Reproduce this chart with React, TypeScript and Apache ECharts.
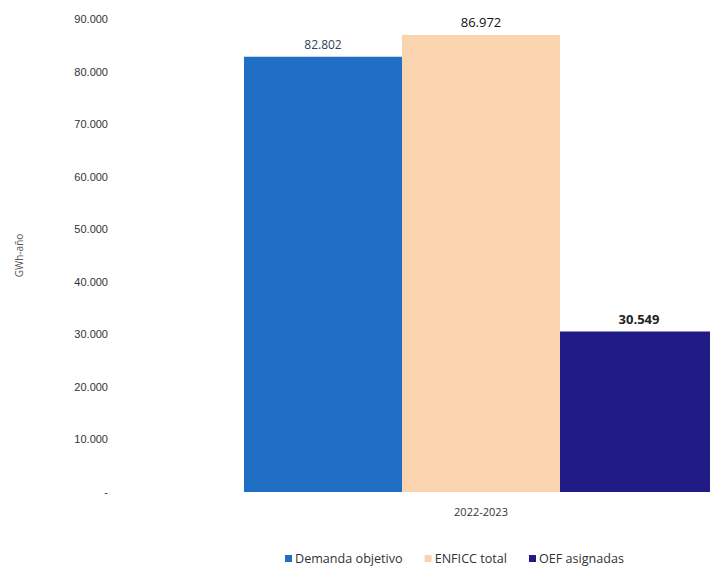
import React, { useEffect, useRef } from "react";
import * as echarts from "echarts";

const categories = ["2022-2023"];
const seriesNames = ["Demanda objetivo", "ENFICC total", "OEF asignadas"];
const demandaObjetivo = [82802];
const enficcTotal = [86972];
const oefAsignadas = [30549];
const seriesColors = ["#1f6fc6", "#f9d4ae", "#211b86"];

const fmt = (v: number) =>
  v === 0 ? "-" : String(Math.round(v)).replace(/\B(?=(\d{3})+(?!\d))/g, ".");

export default function App() {
  const ref = useRef<HTMLDivElement>(null);
  useEffect(() => {
    if (!ref.current) return;
    const chart = echarts.init(ref.current, undefined, { renderer: "svg" });
    const values = [demandaObjetivo, enficcTotal, oefAsignadas];
    const labelStyles = [
      { fontSize: 12, color: "#2f3f55", fontWeight: "normal" as const },
      { fontSize: 13, color: "#111", fontWeight: "normal" as const },
      { fontSize: 13, color: "#222", fontWeight: "bold" as const },
    ];
    chart.setOption({
      animation: false,
      grid: { left: 244, width: 474, top: 19, bottom: 76, outerBoundsMode: "none" },
      legend: {
        data: seriesNames,
        bottom: -2,
        left: 280,
        icon: "rect",
        itemWidth: 7,
        itemHeight: 7,
        itemGap: 22,
        textStyle: { fontFamily: "Open Sans", fontSize: 12.6, color: "#333", padding: [0, 0, 0, -2] },
      },
      xAxis: {
        type: "category",
        data: categories,
        axisLine: { show: false },
        axisTick: { show: false },
        axisLabel: { margin: 14, fontFamily: "Open Sans", fontSize: 11, color: "#333" },
      },
      yAxis: {
        type: "value",
        min: 0,
        max: 90000,
        interval: 10000,
        name: "GWh-año",
        nameLocation: "middle",
        nameGap: 220,
        nameTextStyle: { fontFamily: "Open Sans", fontSize: 10, color: "#555" },
        splitLine: { show: false },
        axisLine: { show: false },
        axisTick: { show: false },
        axisLabel: {
          margin: 136,
          formatter: (v: number) => fmt(v),
          fontFamily: "Liberation Sans",
          fontSize: 11,
          color: "#333",
        },
      },
      series: seriesNames.map((name, i) => ({
        name,
        type: "bar",
        data: values[i],
        barGap: "0%",
        barCategoryGap: "0%",
        itemStyle: { color: seriesColors[i] },
        label: {
          show: true,
          position: "top",
          distance: 6,
          fontFamily: "Open Sans",
          formatter: (p: any) => fmt(p.value),
          ...labelStyles[i],
        },
      })),
    });
    return () => chart.dispose();
  }, []);
  return <div ref={ref} style={{ width: 710, height: 568, position: "absolute", left: 0, top: 0 }} />;
}
